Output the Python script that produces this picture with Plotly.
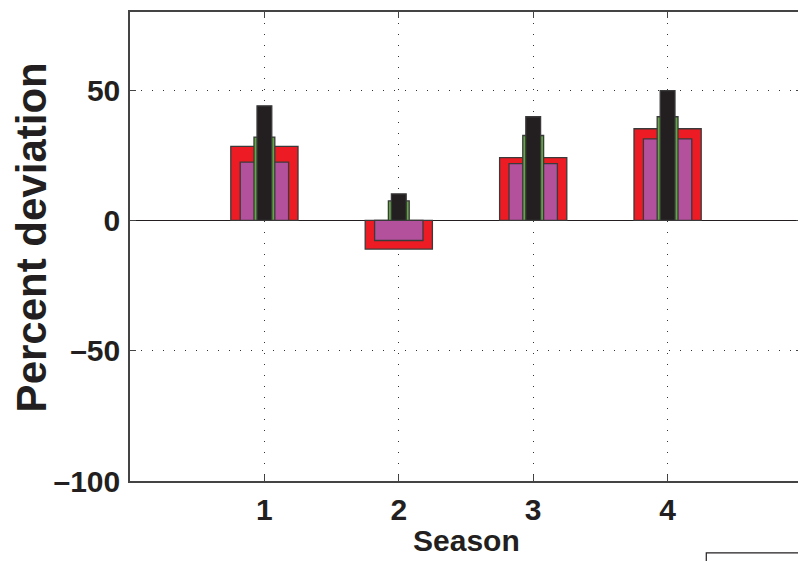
import plotly.graph_objects as go

seasons = [1, 2, 3, 4]
series_names = ["Red", "Magenta", "Green", "Black"]
red_vals = [28.4, -11.0, 24.1, 35.2]
magenta_vals = [22.4, -7.7, 21.8, 31.3]
green_vals = [32.0, 7.5, 32.6, 39.8]
black_vals = [44.0, 10.2, 39.8, 49.8]
bar_widths = [0.5, 0.36, 0.155, 0.11]
bar_colors = ["#ed1c24", "#b4519d", "#62a744", "#231f20"]

x_ticks = [1, 2, 3, 4]
x_ticktext = ["1", "2", "3", "4"]
y_ticks = [-100, -50, 0, 50]
y_ticktext = ["\u2013100", "\u201350", "0", "50"]

fig = go.Figure()
for name, vals, w, c in zip(series_names,
                            [red_vals, magenta_vals, green_vals, black_vals],
                            bar_widths, bar_colors):
    fig.add_trace(go.Bar(x=seasons, y=vals, width=w, name=name,
                         marker=dict(color=c, line=dict(color="#3a3a3a", width=1.3)),
                         showlegend=False))

# page body has an 8px margin, so the figure is placed at (8, 8)
PL, PT, PR, PB = 130, 11, 804, 481  # plot area in page pixels
W, H = 798, 553
FONT = "Liberation Sans, Arial, Helvetica, sans-serif"
pw, ph = PR - PL, PB - PT

fig.update_layout(
    width=W, height=H,
    margin=dict(l=PL - 8, r=W + 8 - PR, t=PT - 8, b=H + 8 - PB),
    barmode="overlay",
    plot_bgcolor="white", paper_bgcolor="white",
    font=dict(family=FONT, color="#231f20", size=30, weight="bold"),
    xaxis=dict(range=[0, 5], tickvals=x_ticks, ticktext=x_ticktext,
               showline=True, linecolor="#444", linewidth=1.5, mirror="ticks",
               ticks="inside", ticklen=6, tickcolor="#444",
               showgrid=True, gridcolor="#333", griddash="1px,10px", gridwidth=1,
               zeroline=False, ticklabelstandoff=1,
               tickfont=dict(size=30, weight="bold")),
    yaxis=dict(range=[-100, 80], tickvals=y_ticks, ticktext=y_ticktext,
               showline=True, linecolor="#444", linewidth=1.5, mirror="ticks",
               ticks="inside", ticklen=6, tickcolor="#444",
               showgrid=True, gridcolor="#333", griddash="1px,10px", gridwidth=1,
               zeroline=True, zerolinecolor="#231f20", zerolinewidth=1.2,
               ticklabelstandoff=2,
               tickfont=dict(size=30, weight="bold")),
    annotations=[
        dict(text="Season", xref="paper", yref="paper", x=0.5, y=(PB - 541) / ph,
             xanchor="center", yanchor="middle", showarrow=False,
             font=dict(size=30, weight="bold")),
        dict(text="Percent deviation", xref="paper", yref="paper",
             x=(6 - PL) / pw, y=(PB - 237) / ph,
             xanchor="left", yanchor="middle", textangle=-90, showarrow=False,
             font=dict(size=42, weight="bold")),
    ],
    shapes=[
        dict(type="rect", xref="paper", yref="paper", x0=(708 - PL) / pw, x1=1.05,
             y0=(PB - 553) / ph, y1=(PB - 620) / ph,
             line=dict(color="#231f20", width=1.2), fillcolor="white", layer="above"),
    ],
)

fig.write_html("out.html")
